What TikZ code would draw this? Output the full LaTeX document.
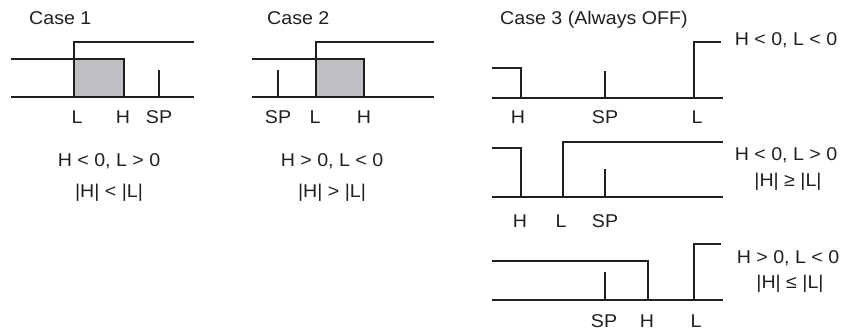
\documentclass[tikz,border=0pt]{standalone}
\usepackage{fontspec}
\setmainfont{Liberation Sans}[FakeStretch=1.06]
\usetikzlibrary{positioning}

\definecolor{ink}{RGB}{35,31,32}
\definecolor{bandgray}{RGB}{190,191,194}

\begin{document}
\begin{tikzpicture}[
  x=1pt, y=-1pt,
  font=\fontsize{18.5}{22}\selectfont,
  level/.style = {line width=2.8pt, draw=ink, line join=miter},
  tick/.style = {line width=1.3pt, draw=ink},
  lbl/.style = {inner sep=0pt, anchor=base, text=ink},
  title/.style = {lbl, anchor=base west},
]
  \useasboundingbox (0,0) rectangle (843,331);

  % case 1
  \node[title] (t1) at (29,25) {Case 1};
  \fill[bandgray] (74,59) rectangle (124,97);
  \draw[level] (11,59) -- (124,59) -- (124,97);
  \draw[level] (74,97) -- (74,42) -- (194,42);
  \draw[level] (11,97) -- (194,97);
  \draw[tick] (159,70) -- (159,97);
  \node[lbl] (c1L)  at (77,124)  {L};
  \node[lbl] (c1H)  at (123,124) {H};
  \node[lbl] (c1SP) at (159,124) {SP};
  \node[lbl] (c1a)  at (109,167) {H < 0, L > 0};
  \node[lbl] (c1b)  at (109,197) {|H| < |L|};

  % case 2
  \node[title] (t2) at (267,25) {Case 2};
  \fill[bandgray] (316,59) rectangle (364,97);
  \draw[level] (252,59) -- (364,59) -- (364,97);
  \draw[level] (316,97) -- (316,42) -- (434,42);
  \draw[level] (252,97) -- (434,97);
  \draw[tick] (278,70) -- (278,97);
  \node[lbl] (c2SP) at (278,124) {SP};
  \node[lbl] (c2L)  at (315,124) {L};
  \node[lbl] (c2H)  at (364,124) {H};
  \node[lbl] (c2a)  at (332,167) {H > 0, L < 0};
  \node[lbl] (c2b)  at (332,197) {|H| > |L|};

  % case 3, first row
  \node[title] (t3) at (500,25) {Case 3 (Always OFF)};
  \draw[level] (492,68) -- (521,68) -- (521,98);
  \draw[level] (694,98) -- (694,42) -- (721,42);
  \draw[level] (492,98) -- (723,98);
  \draw[tick] (605,71) -- (605,98);
  \node[lbl] (r1H)  at (518,124) {H};
  \node[lbl] (r1SP) at (605,124) {SP};
  \node[lbl] (r1L)  at (697,124) {L};
  \node[lbl] (r1a)  at (786,46)  {H < 0, L < 0};

  % case 3, second row
  \draw[level] (492,148) -- (521,148) -- (521,197);
  \draw[level] (563,197) -- (563,142) -- (723,142);
  \draw[level] (492,197) -- (723,197);
  \draw[tick] (605,169) -- (605,197);
  \node[lbl] (r2H)  at (520,227) {H};
  \node[lbl] (r2L)  at (561,227) {L};
  \node[lbl] (r2SP) at (605,227) {SP};
  \node[lbl] (r2a)  at (786,161) {H < 0, L > 0};
  \node[lbl] (r2b)  at (788,186) {|H| ≥ |L|};

  % case 3, third row
  \draw[level] (492,261) -- (648,261) -- (648,300);
  \draw[level] (694,300) -- (694,244) -- (721,244);
  \draw[level] (492,300) -- (723,300);
  \draw[tick] (605,272) -- (605,300);
  \node[lbl] (r3SP) at (604,327) {SP};
  \node[lbl] (r3H)  at (647,327) {H};
  \node[lbl] (r3L)  at (696,327) {L};
  \node[lbl] (r3a)  at (788,263) {H > 0, L < 0};
  \node[lbl] (r3b)  at (790,288) {|H| ≤ |L|};
\end{tikzpicture}
\end{document}
